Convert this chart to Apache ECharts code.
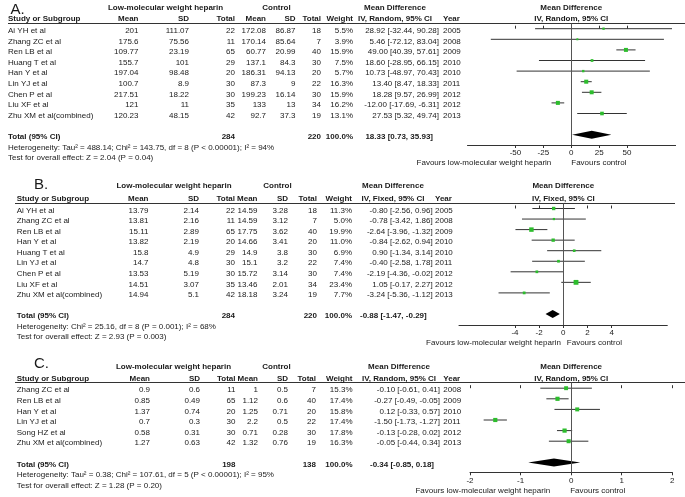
<!DOCTYPE html>
<html><head><meta charset="utf-8">
<script src="https://cdn.jsdelivr.net/npm/echarts@6/dist/echarts.min.js"></script>
<style>html,body{margin:0;padding:0;background:#fff}#c{width:685px;height:497px}</style>
</head><body><div id="c"></div>
<script>
// ---------- Panel A data ----------
const studiesA = ['Ai YH et al','Zhang ZC et al','Ren LB et al','Huang T et al','Han Y et al','Lin YJ et al','Chen P et al','Liu XF et al','Zhu XM et al(combined)'];
const lmwhMeanA = [201,175.6,109.77,155.7,197.04,100.7,217.51,121,120.23];
const lmwhSdA   = [111.07,75.56,23.19,101,98.48,8.9,18.22,11,48.15];
const lmwhNA    = [22,11,65,29,20,30,30,35,42];
const ctrlMeanA = [172.08,170.14,60.77,137.1,186.31,87.3,199.23,133,92.7];
const ctrlSdA   = [86.87,85.64,20.99,84.3,94.13,9,16.14,13,37.3];
const ctrlNA    = [18,7,40,30,20,22,30,34,19];
const weightA   = [5.5,3.9,15.9,7.5,5.7,16.3,15.9,16.2,13.1];
const mdA       = [28.92,5.46,49.00,18.60,10.73,13.40,18.28,-12.00,27.53];
const loA       = [-32.44,-72.12,40.39,-28.95,-48.97,8.47,9.57,-17.69,5.32];
const hiA       = [90.28,83.04,57.61,66.15,70.43,18.33,26.99,-6.31,49.74];
const yearA     = [2005,2008,2009,2010,2010,2011,2012,2012,2013];
const totalA    = [284,220,100.0,18.33,0.73,35.93];
const hetA  = 'Heterogeneity: Tau\u00b2 = 488.14; Chi\u00b2 = 143.75, df = 8 (P < 0.00001); I\u00b2 = 94%';
const testA = 'Test for overall effect: Z = 2.04 (P = 0.04)';
const ticksA = [-50,-25,0,25,50];

// ---------- Panel B data ----------
const studiesB = ['Ai YH et al','Zhang ZC et al','Ren LB et al','Han Y et al','Huang T et al','Lin YJ et al','Chen P et al','Liu XF et al','Zhu XM et al(combined)'];
const lmwhMeanB = [13.79,13.81,15.11,13.82,15.8,14.7,13.53,14.51,14.94];
const lmwhSdB   = [2.14,2.16,2.89,2.19,4.9,4.8,5.19,3.07,5.1];
const lmwhNB    = [22,11,65,20,29,30,30,35,42];
const ctrlMeanB = [14.59,14.59,17.75,14.66,14.9,15.1,15.72,13.46,18.18];
const ctrlSdB   = [3.28,3.12,3.62,3.41,3.8,3.2,3.14,2.01,3.24];
const ctrlNB    = [18,7,40,20,30,22,30,34,19];
const weightB   = [11.3,5.0,19.9,11.0,6.9,7.4,7.4,23.4,7.7];
const mdB       = [-0.80,-0.78,-2.64,-0.84,0.90,-0.40,-2.19,1.05,-3.24];
const loB       = [-2.56,-3.42,-3.96,-2.62,-1.34,-2.58,-4.36,-0.17,-5.36];
const hiB       = [0.96,1.86,-1.32,0.94,3.14,1.78,-0.02,2.27,-1.12];
const yearB     = [2005,2008,2009,2010,2010,2011,2012,2012,2013];
const totalB    = [284,220,100.0,-0.88,-1.47,-0.29];
const hetB  = 'Heterogeneity: Chi\u00b2 = 25.16, df = 8 (P = 0.001); I\u00b2 = 68%';
const testB = 'Test for overall effect: Z = 2.93 (P = 0.003)';
const ticksB = [-4,-2,0,2,4];

// ---------- Panel C data ----------
const studiesC = ['Zhang ZC et al','Ren LB et al','Han Y et al','Lin YJ et al','Song HZ et al','Zhu XM et al(combined)'];
const lmwhMeanC = [0.9,0.85,1.37,0.7,0.58,1.27];
const lmwhSdC   = [0.6,0.49,0.74,0.3,0.31,0.63];
const lmwhNC    = [11,65,20,30,30,42];
const ctrlMeanC = [1,1.12,1.25,2.2,0.71,1.32];
const ctrlSdC   = [0.5,0.6,0.71,0.5,0.28,0.76];
const ctrlNC    = [7,40,20,22,30,19];
const weightC   = [15.3,17.4,15.8,17.4,17.8,16.3];
const mdC       = [-0.10,-0.27,0.12,-1.50,-0.13,-0.05];
const loC       = [-0.61,-0.49,-0.33,-1.73,-0.28,-0.44];
const hiC       = [0.41,-0.05,0.57,-1.27,0.02,0.34];
const yearC     = [2008,2009,2010,2011,2012,2013];
const totalC    = [198,138,100.0,-0.34,-0.85,0.18];
const hetC  = 'Heterogeneity: Tau\u00b2 = 0.38; Chi\u00b2 = 107.61, df = 5 (P < 0.00001); I\u00b2 = 95%';
const testC = 'Test for overall effect: Z = 1.28 (P = 0.20)';
const ticksC = [-2,-1,0,1,2];

// ---------- layout (positions / styles only) ----------
const FONT = '"Liberation Sans", Arial, sans-serif';
const TXT = '#1a1a1a';
const GREEN = '#2dbd2d';
const LINEC = '#333';

const panels = [
  {letter:'A.', method:'IV, Random, 95% CI',
   names:studiesA, m1:lmwhMeanA, s1:lmwhSdA, n1:lmwhNA, m2:ctrlMeanA, s2:ctrlSdA, n2:ctrlNA, w:weightA, md:mdA, lo:loA, hi:hiA, yr:yearA, tot:totalA, het:hetA, test:testA, ticks:ticksA,
   lay:{y0:30.7, h:10.6, axisY:145, plotL:467.5, plotR:675.6, xMin:-93, xMax:93.5, lineL:8, lineR:685,
        letterX:10.5, letterOff:-21, grpOff:-23.4, nameX:8, cm1:138.5, cs1:189, ct1:235, cm2:266, cs2:295.5, ct2:321, cw:353, cci:439, cyr:443,
        lmwhC:165.5, ctrlC:276.5, mdC:395, favL:-20, favR:0}},
  {letter:'B.', method:'IV, Fixed, 95% CI',
   names:studiesB, m1:lmwhMeanB, s1:lmwhSdB, n1:lmwhNB, m2:ctrlMeanB, s2:ctrlSdB, n2:ctrlNB, w:weightB, md:mdB, lo:loB, hi:hiB, yr:yearB, tot:totalB, het:hetB, test:testB, ticks:ticksB,
   lay:{y0:210.5, h:10.55, axisY:325, plotL:459, plotR:667.3, xMin:-8.63, xMax:8.6, lineL:15, lineR:675,
        letterX:34, letterOff:-26, grpOff:-24.5, nameX:16.7, cm1:148.5, cs1:199, ct1:235, cm2:257.5, cs2:288, ct2:317, cw:352, cci:432.7, cyr:435,
        lmwhC:174, ctrlC:277.5, mdC:393, favL:-2.5, favR:3.5}},
  {letter:'C.', method:'IV, Random, 95% CI',
   names:studiesC, m1:lmwhMeanC, s1:lmwhSdC, n1:lmwhNC, m2:ctrlMeanC, s2:ctrlSdC, n2:ctrlNC, w:weightC, md:mdC, lo:loC, hi:hiC, yr:yearC, tot:totalC, het:hetC, test:testC, ticks:ticksC,
   lay:{y0:390.2, h:10.6, axisY:472.3, plotL:470, plotR:672.3, xMin:-2, xMax:2, lineL:15, lineR:685,
        letterX:34, letterOff:-26, grpOff:-23.2, nameX:16.7, cm1:150, cs1:200, ct1:235.5, cm2:258, cs2:288, ct2:316, cw:352.5, cci:440, cyr:443.3,
        lmwhC:173.5, ctrlC:276.5, mdC:399, favL:-21, favR:-1}}
];

const f2 = v => v.toFixed(2);
const ciText = (m,l,h) => f2(m) + ' [' + f2(l) + ', ' + f2(h) + ']';

const option = {animation:false, backgroundColor:'#fff', grid:[], xAxis:[], yAxis:[], series:[], graphic:[]};

function txt(x, t, align, bold, size) { return {x, t, align, bold:!!bold, size:size||8}; }

function textGroup(items, api, idx) {
  const it = items[idx];
  const y = api.coord([0, it.row])[1];
  return {type:'group', children: it.texts.map(t => ({
    type:'text',
    style:{text:t.t, x:api.coord([t.x, it.row])[0] + (t.dx||0), y:y, align:t.align, verticalAlign:'middle',
           fill:TXT, font:(t.bold?'bold ':'') + t.size + 'px ' + FONT}
  }))};
}

panels.forEach(P => {
  const L = P.lay, n = P.names.length, totalRow = n + 1;
  const gi = option.grid.length, xi = option.xAxis.length, yi = option.yAxis.length;
  // ---- table grid (x in pixel units, y in row units) ----
  const rowMin = -2.8, rowMax = totalRow + 2.6;
  option.grid.push({left:0, top:L.y0 + rowMin*L.h, width:685, height:(rowMax-rowMin)*L.h});
  option.xAxis.push({gridIndex:gi, type:'value', min:0, max:685, show:false});
  option.yAxis.push({gridIndex:gi, type:'value', min:rowMin, max:rowMax, inverse:true, show:false});
  const gRow = L.grpOff / L.h, cRow = -11.6 / L.h, lRow = L.letterOff / L.h;
  const items = [];
  items.push({row:lRow, texts:[txt(L.letterX, P.letter, 'left', false, 15)]});
  items.push({row:gRow, texts:[txt(L.lmwhC,'Low-molecular weight heparin','center',true), txt(L.ctrlC,'Control','center',true), txt(L.mdC,'Mean Difference','center',true)]});
  items.push({row:cRow, texts:[txt(L.nameX,'Study or Subgroup','left',true), txt(L.cm1,'Mean','right',true), txt(L.cs1,'SD','right',true), txt(L.ct1,'Total','right',true),
    txt(L.cm2,'Mean','right',true), txt(L.cs2,'SD','right',true), txt(L.ct2,'Total','right',true), txt(L.cw,'Weight','right',true),
    txt(L.mdC,P.method,'center',true), txt(L.cyr,'Year','left',true)]});
  for (let i = 0; i < n; i++) {
    items.push({row:i, texts:[txt(L.nameX,P.names[i],'left'), txt(L.cm1,String(P.m1[i]),'right'), txt(L.cs1,String(P.s1[i]),'right'),
      txt(L.ct1,String(P.n1[i]),'right'), txt(L.cm2,String(P.m2[i]),'right'), txt(L.cs2,String(P.s2[i]),'right'), txt(L.ct2,String(P.n2[i]),'right'),
      txt(L.cw,P.w[i].toFixed(1)+'%','right'), txt(L.cci,ciText(P.md[i],P.lo[i],P.hi[i]),'right'), txt(L.cyr,String(P.yr[i]),'left')]});
  }
  const T = P.tot;
  items.push({row:totalRow, texts:[txt(L.nameX,'Total (95% CI)','left',true), txt(L.ct1,String(T[0]),'right',true), txt(L.ct2,String(T[1]),'right',true),
    txt(L.cw,T[2].toFixed(1)+'%','right',true), txt(L.cci-6,ciText(T[3],T[4],T[5]),'right',true)]});
  items.push({row:totalRow+1, texts:[txt(L.nameX,P.het,'left')]});
  items.push({row:totalRow+2, texts:[txt(L.nameX,P.test,'left')]});
  option.series.push({type:'custom', xAxisIndex:xi, yAxisIndex:yi, clip:false, silent:true,
    data: items.map(it => [0, it.row]),
    renderItem:(params, api) => textGroup(items, api, params.dataIndex)});

  // ---- rule under headers ----
  const ruleY = Math.round(L.y0 - 8) + 0.5;
  option.graphic.push({type:'line', silent:true, shape:{x1:L.lineL, y1:ruleY, x2:L.lineR, y2:ruleY}, style:{stroke:LINEC, lineWidth:1}});

  // ---- forest plot grid ----
  const topY = ruleY;
  const mBase = L.y0 - 2;
  const yMin = (topY - mBase) / L.h, yMax = (L.axisY - mBase) / L.h;
  const pg = gi + 1;
  option.grid.push({left:L.plotL, top:topY, width:L.plotR - L.plotL, height:L.axisY - topY});
  option.xAxis.push({gridIndex:pg, type:'value', min:L.xMin, max:L.xMax, position:'bottom',
    axisLine:{show:true, onZero:false, lineStyle:{color:LINEC, width:1}},
    axisTick:{show:true, inside:false, length:3, customValues:P.ticks, lineStyle:{color:LINEC}},
    axisLabel:{show:true, customValues:P.ticks, fontSize:8, fontFamily:FONT, color:TXT, margin:4},
    splitLine:{show:false}});
  option.xAxis.push({gridIndex:pg, type:'value', min:L.xMin, max:L.xMax, position:'bottom',
    axisLine:{show:false}, axisLabel:{show:false},
    axisTick:{show:true, inside:true, length:3, customValues:P.ticks, lineStyle:{color:LINEC}},
    splitLine:{show:false}});
  option.yAxis.push({gridIndex:pg, type:'value', min:yMin, max:yMax, inverse:true, show:false});
  const pxi = xi + 1, pyi = yi + 1;

  // studies: CI lines + squares
  option.series.push({type:'custom', xAxisIndex:pxi, yAxisIndex:pyi, silent:true, clip:false,
    data: P.md.map((m, i) => [i, m, P.lo[i], P.hi[i], P.w[i]]),
    encode:{x:[1,2,3], y:0},
    renderItem:(params, api) => {
      const r = api.value(0);
      const pm = api.coord([api.value(1), r]), pl = api.coord([api.value(2), r]), ph = api.coord([api.value(3), r]);
      const s = Math.max(1.8, 1.0 * Math.sqrt(api.value(4)));
      return {type:'group', children:[
        {type:'line', shape:{x1:pl[0], y1:pm[1], x2:ph[0], y2:pm[1]}, style:{stroke:LINEC, lineWidth:1}},
        {type:'rect', shape:{x:pm[0]-s/2, y:pm[1]-s/2, width:s, height:s}, style:{fill:GREEN}}
      ]};
    },
    markLine:{silent:true, symbol:['none','none'], label:{show:false}, animation:false,
      lineStyle:{color:'#555', width:1, type:'solid'}, data:[{xAxis:0}]}
  });
  // pooled diamond
  option.series.push({type:'custom', xAxisIndex:pxi, yAxisIndex:pyi, silent:true, clip:false,
    data:[[totalRow, T[3], T[4], T[5]]], encode:{x:[1,2,3], y:0},
    renderItem:(params, api) => {
      const r = api.value(0);
      const pm = api.coord([api.value(1), r]), pl = api.coord([api.value(2), r]), ph = api.coord([api.value(3), r]);
      const hh = 4;
      return {type:'polygon', shape:{points:[[pl[0], pm[1]], [pm[0], pm[1]-hh], [ph[0], pm[1]], [pm[0], pm[1]+hh]]}, style:{fill:'#000'}};
    }});
  // plot headers and favours labels (anchored at zero on the plot scale)
  const favRow = (L.axisY + 18 - mBase) / L.h;
  const pItems = [
    {row:(L.grpOff + 2) / L.h, texts:[txt(0,'Mean Difference','center',true)]},
    {row:(-11.6 + 2) / L.h, texts:[txt(0,P.method,'center',true)]},
    {row:favRow, texts:[Object.assign(txt(0,'Favours low-molecular weight heparin','right'),{dx:L.favL}), Object.assign(txt(0,'Favours control','left'),{dx:L.favR})]}
  ];
  option.series.push({type:'custom', xAxisIndex:pxi, yAxisIndex:pyi, silent:true, clip:false,
    data: pItems.map(it => [0, it.row]),
    renderItem:(params, api) => textGroup(pItems, api, params.dataIndex)});
});

const chart = echarts.init(document.getElementById('c'), null, {renderer:'canvas'});
chart.setOption(option);
</script></body></html>
